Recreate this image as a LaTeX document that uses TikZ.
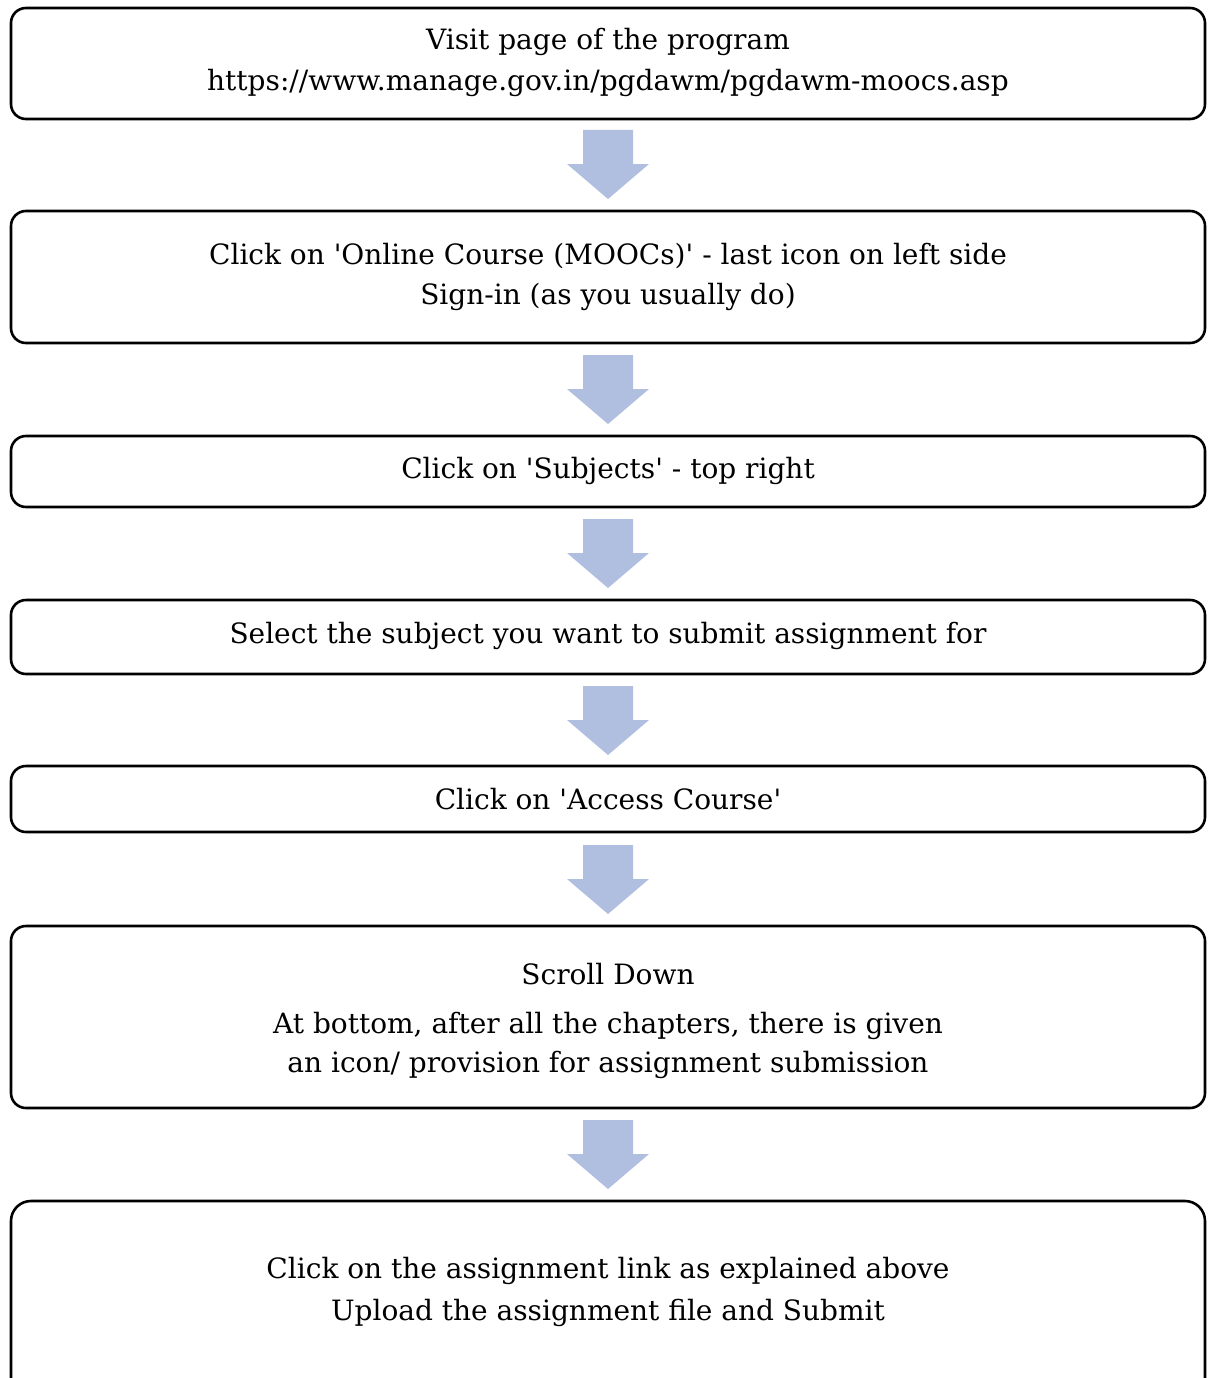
\documentclass[tikz,border=0pt]{standalone}
\usepackage{fontspec}
\setmainfont{DejaVu Serif}[Ligatures=TeXOff]
\definecolor{arrowblue}{RGB}{176,190,224}
\tikzset{
  box/.style={draw=black, line width=2.6pt, rounded corners=15pt, fill=white},
  txt/.style={font=\fontsize{28}{32}\selectfont, text=black, inner sep=0pt, anchor=center},
  pics/downarrow/.style={code={
    \fill[arrowblue] (-25,0) -- (25,0) -- (25,34) -- (41,34) -- (0,69) -- (-41,34) -- (-25,34) -- cycle;
  }}
}
\begin{document}
\begin{tikzpicture}[x=1pt,y=-1pt]
\useasboundingbox (0,0) rectangle (1209,1378);
\clip (0,0) rectangle (1209,1378);
% boxes
\draw[box] (11,8) rectangle (1205,119);
\node[inner sep=0pt] (b1) at (608,63.5) {};
\draw[box] (11,211) rectangle (1205,343);
\node[inner sep=0pt] (b2) at (608,277) {};
\draw[box] (11,436) rectangle (1205,507);
\node[inner sep=0pt] (b3) at (608,471) {};
\draw[box] (11,600) rectangle (1205,674);
\node[inner sep=0pt] (b4) at (608,637) {};
\draw[box] (11,766) rectangle (1205,832);
\node[inner sep=0pt] (b5) at (608,799) {};
\draw[box] (11,926) rectangle (1205,1108);
\node[inner sep=0pt] (b6) at (608,1017) {};
\draw[box, rounded corners=20pt] (11,1201) rectangle (1205,1400);
\node[inner sep=0pt] (b7) at (608,1290) {};
% texts
\node[txt] (t1a) at (608,42) {Visit page of the program};
\node[txt] (t1b) at (608,83) {https://www.manage.gov.in/pgdawm/pgdawm-moocs.asp};
\node[txt] (t2a) at (608,256) {Click on 'Online Course (MOOCs)' - last icon on left side};
\node[txt] (t2b) at (608,297) {Sign-in (as you usually do)};
\node[txt] (t3) at (608,471) {Click on 'Subjects' - top right};
\node[txt] (t4) at (608,636) {Select the subject you want to submit assignment for};
\node[txt] (t5) at (608,799) {Click on 'Access Course'};
\node[txt] (t6a) at (608,974) {Scroll Down};
\node[txt] (t6b) at (608,1026) {At bottom, after all the chapters, there is given};
\node[txt] (t6c) at (608,1065) {an icon/ provision for assignment submission};
\node[txt] (t7a) at (608,1271) {Click on the assignment link as explained above};
\node[txt] (t7b) at (608,1313) {Upload the assignment file and Submit};
% arrows
\pic at (608,130) {downarrow};
\pic at (608,355) {downarrow};
\pic at (608,519) {downarrow};
\pic at (608,686) {downarrow};
\pic at (608,845) {downarrow};
\pic at (608,1120) {downarrow};
\end{tikzpicture}
\end{document}
